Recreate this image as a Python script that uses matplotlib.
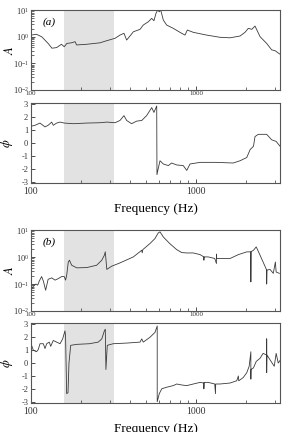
import matplotlib
matplotlib.use("Agg")
import matplotlib.pyplot as plt
from matplotlib.ticker import LogLocator, FixedLocator, NullFormatter, FixedFormatter

plt.rcParams['font.family'] = ['Liberation Serif', 'DejaVu Serif']
plt.rcParams['mathtext.fontset'] = 'stix'

# ---- panel (a) ----
freq_amp_a = [100, 108, 116, 127, 134, 143, 153, 159, 165, 176, 185, 189, 218, 262, 288, 323,
              346, 366, 380, 398, 417, 458, 479, 514, 539, 556, 572, 586, 599, 611, 634, 664,
              728, 819, 858, 886, 963, 1161, 1397, 1607, 1848, 1981, 2075, 2177, 2278, 2445,
              2681, 2875, 3010, 3230]
amp_a = [1.15, 1.23, 1.0, 0.56, 0.37, 0.39, 0.52, 0.42, 0.56, 0.59, 0.65, 0.49, 0.52, 0.59, 0.71, 0.87,
         1.15, 1.34, 0.75, 1.06, 1.53, 1.89, 2.74, 3.64, 4.88, 3.97, 7.5, 10.0, 8.6, 10.0, 4.2, 2.74,
         2.06, 1.34, 1.15, 1.78, 1.46, 1.15, 0.95, 0.91, 1.06, 1.46, 2.06, 1.89,
         2.51, 1.0, 0.56, 0.32, 0.30, 0.22]

freq_ph_a = [100, 105.7, 113.4, 121.6, 127, 133.5, 136.5, 143, 150, 159, 180.5, 218, 262, 288, 323,
             346, 366, 380, 407, 437, 469, 502, 539, 556, 578, 580, 590, 605, 634, 680, 711, 764,
             837, 879, 920, 1059, 1330, 1680, 1848, 2030, 2130, 2230, 2278, 2385, 2681, 2875,
             3060, 3230]
phase_a = [1.3, 1.375, 1.55, 1.25, 1.375, 1.625, 1.375, 1.55, 1.625, 1.55, 1.5, 1.55, 1.575, 1.625, 1.575,
           1.75, 2.125, 1.75, 1.5, 1.7, 1.75, 2.125, 2.75, 2.375, 2.875, -2.45, -2.0, -1.375, -1.625,
           -1.75, -1.55, -1.7, -1.75, -2.125, -1.625, -1.5, -1.5, -1.55, -1.375, -1.125, -0.5, -0.25,
           0.5, 0.675, 0.675, 0.25, 0.125, -0.25]

# ---- panel (b) ----
freq_amp_b = [100, 103.3, 107.2, 109.8, 112.3, 116, 118.8, 122.7, 127, 133.5, 140, 146.4, 153.4, 159,
              162, 164.5, 168.3, 171, 176.4, 189.4, 217.6, 250, 268.5, 278.4, 282, 288, 308, 346,
              417, 469, 472, 476, 526, 564, 590, 605, 634, 693, 764, 819, 879, 963, 1059, 1116,
              1116, 1120, 1186, 1299, 1330, 1330, 1335, 1431, 1607, 1806, 2030, 2150, 2150, 2155,
              2230, 2317, 2410, 2550, 2681, 2681, 2690, 2810, 2940, 3027, 3060, 3200]
amp_b = [0.059, 0.083, 0.1, 0.091, 0.13, 0.19, 0.13, 0.059, 0.15, 0.17, 0.14, 0.16, 0.19, 0.19,
         0.14, 0.21, 0.66, 0.77, 0.5, 0.40, 0.41, 0.5, 0.77, 1.18, 1.57, 0.35, 0.46, 0.61,
         1.02, 1.8, 1.45, 1.9, 3.2, 4.9, 7.9, 8.7, 5.6, 3.2, 1.9, 1.48, 1.43, 1.43, 1.24, 1.02,
         0.77, 1.02, 1.02, 0.89, 0.58, 1.3, 0.89, 0.89, 0.89, 1.24, 1.57, 1.57, 0.12, 1.6,
         1.8, 2.4, 1.43, 0.66, 0.33, 0.1, 0.33, 0.35, 0.25, 0.66, 0.28, 0.25]

freq_ph_b = [100, 103.3, 108, 110.7, 113.4, 118.8, 121.6, 124.5, 129.1, 131.6, 136.5, 143, 150, 155.6,
             160.6, 162, 164.5, 167.6, 169.9, 174, 189.4, 226, 255.6, 268.5, 278.4, 282, 284.5, 290,
             315, 380, 458, 469, 479, 526, 564, 582, 582, 599, 620, 664, 728, 764, 819, 879, 963,
             1059, 1116, 1116, 1120, 1186, 1299, 1312, 1316, 1397, 1607, 1765, 1806, 1815, 1933,
             2030, 2100, 2150, 2150, 2155, 2230, 2317, 2445, 2550, 2681, 2681, 2681, 2690, 2810,
             2980, 3060, 3150, 3230]
phase_b = [1.5, 1.0, 0.875, 1.05, 1.5, 1.5, 1.125, 1.5, 1.625, 1.3, 1.75, 1.625, 1.5, 1.875,
           2.5, 2.1, -2.375, -2.3, 0.0, 1.375, 1.45, 1.5, 1.625, 1.875, 2.5, 2.625, -0.5, 1.375,
           1.5, 1.55, 1.625, 1.875, 1.625, 2.0, 2.375, 2.875, -3.0, -2.375, -2.0, -1.875, -1.75,
           -1.625, -1.7, -1.75, -1.625, -1.5, -1.55, -2.0, -1.5, -1.5, -1.625, -2.375, -1.625, -1.625,
           -1.55, -1.375, -1.0, -1.375, -1.125, -0.75, -0.25, 0.875, -1.25, -0.5, -0.375, 0.125,
           0.375, 0.75, 0.625, 1.875, -0.75, 0.625, 0.25, -0.25, 0.75, 0.0, 0.2]

band = (158, 320)
freq_ticks = [100, 1000]
freq_ticklabels = ['100', '1000']
phase_ticks = [-3, -2, -1, 0, 1, 2, 3]

line_color = '#3a3a3a'
shade_color = '#e2e2e2'

fig = plt.figure(figsize=(2.83, 4.32), dpi=100)
left, width = 0.1095, 0.880
rects = [
    (left, 0.7917, width, 0.185),
    (left, 0.5764, width, 0.185),
    (left, 0.2801, width, 0.187),
    (left, 0.0671, width, 0.185),
]
axes = [fig.add_axes(r) for r in rects]


def style_common(ax, tick_size):
    ax.set_xscale('log')
    ax.set_xlim(100, 3230)
    ax.axvspan(band[0], band[1], color=shade_color, lw=0, zorder=0)
    ax.xaxis.set_major_locator(FixedLocator(freq_ticks))
    ax.xaxis.set_major_formatter(FixedFormatter(freq_ticklabels))
    ax.xaxis.set_minor_locator(LogLocator(base=10, subs=range(2, 10)))
    ax.xaxis.set_minor_formatter(NullFormatter())
    ax.tick_params(which='both', direction='in', top=False, right=False, colors='#333333')
    ax.tick_params(which='major', length=3, width=0.6, labelsize=tick_size, pad=2)
    ax.tick_params(which='minor', length=2, width=0.5)
    for s in ax.spines.values():
        s.set_linewidth(0.8)
        s.set_color('#555555')


def amp_panel(ax, f, a, label):
    style_common(ax, 5)
    ax.plot(f, a, color=line_color, lw=0.6)
    ax.set_yscale('log')
    ax.set_ylim(0.01, 10)
    ax.yaxis.set_major_locator(LogLocator(base=10, numticks=10))
    ax.yaxis.set_minor_locator(LogLocator(base=10, subs=range(2, 10), numticks=10))
    ax.yaxis.set_minor_formatter(NullFormatter())
    ax.tick_params(axis='y', which='major', labelsize=6, pad=1.5)
    ax.tick_params(axis='x', which='major', pad=1)
    ax.set_ylabel('$A$', fontsize=9)
    ax.yaxis.set_label_coords(-0.06, 0.5)
    ax.text(0.045, 0.82, label, transform=ax.transAxes, fontsize=8, style='italic')


def phase_panel(ax, f, p):
    style_common(ax, 7)
    ax.plot(f, p, color=line_color, lw=0.6)
    ax.set_ylim(-3.1, 3.1)
    ax.set_yticks(phase_ticks)
    ax.set_yticklabels([str(t) for t in phase_ticks])
    ax.tick_params(axis='y', which='major', labelsize=6)
    ax.tick_params(axis='x', which='major', pad=3)
    ax.set_ylabel(r'$\phi$', fontsize=9)
    ax.yaxis.set_label_coords(-0.065, 0.5)
    ax.set_xlabel('Frequency (Hz)', fontsize=9.5, labelpad=5)


amp_panel(axes[0], freq_amp_a, amp_a, '(a)')
phase_panel(axes[1], freq_ph_a, phase_a)
amp_panel(axes[2], freq_amp_b, amp_b, '(b)')
phase_panel(axes[3], freq_ph_b, phase_b)

fig.savefig('out.png', dpi=100)
